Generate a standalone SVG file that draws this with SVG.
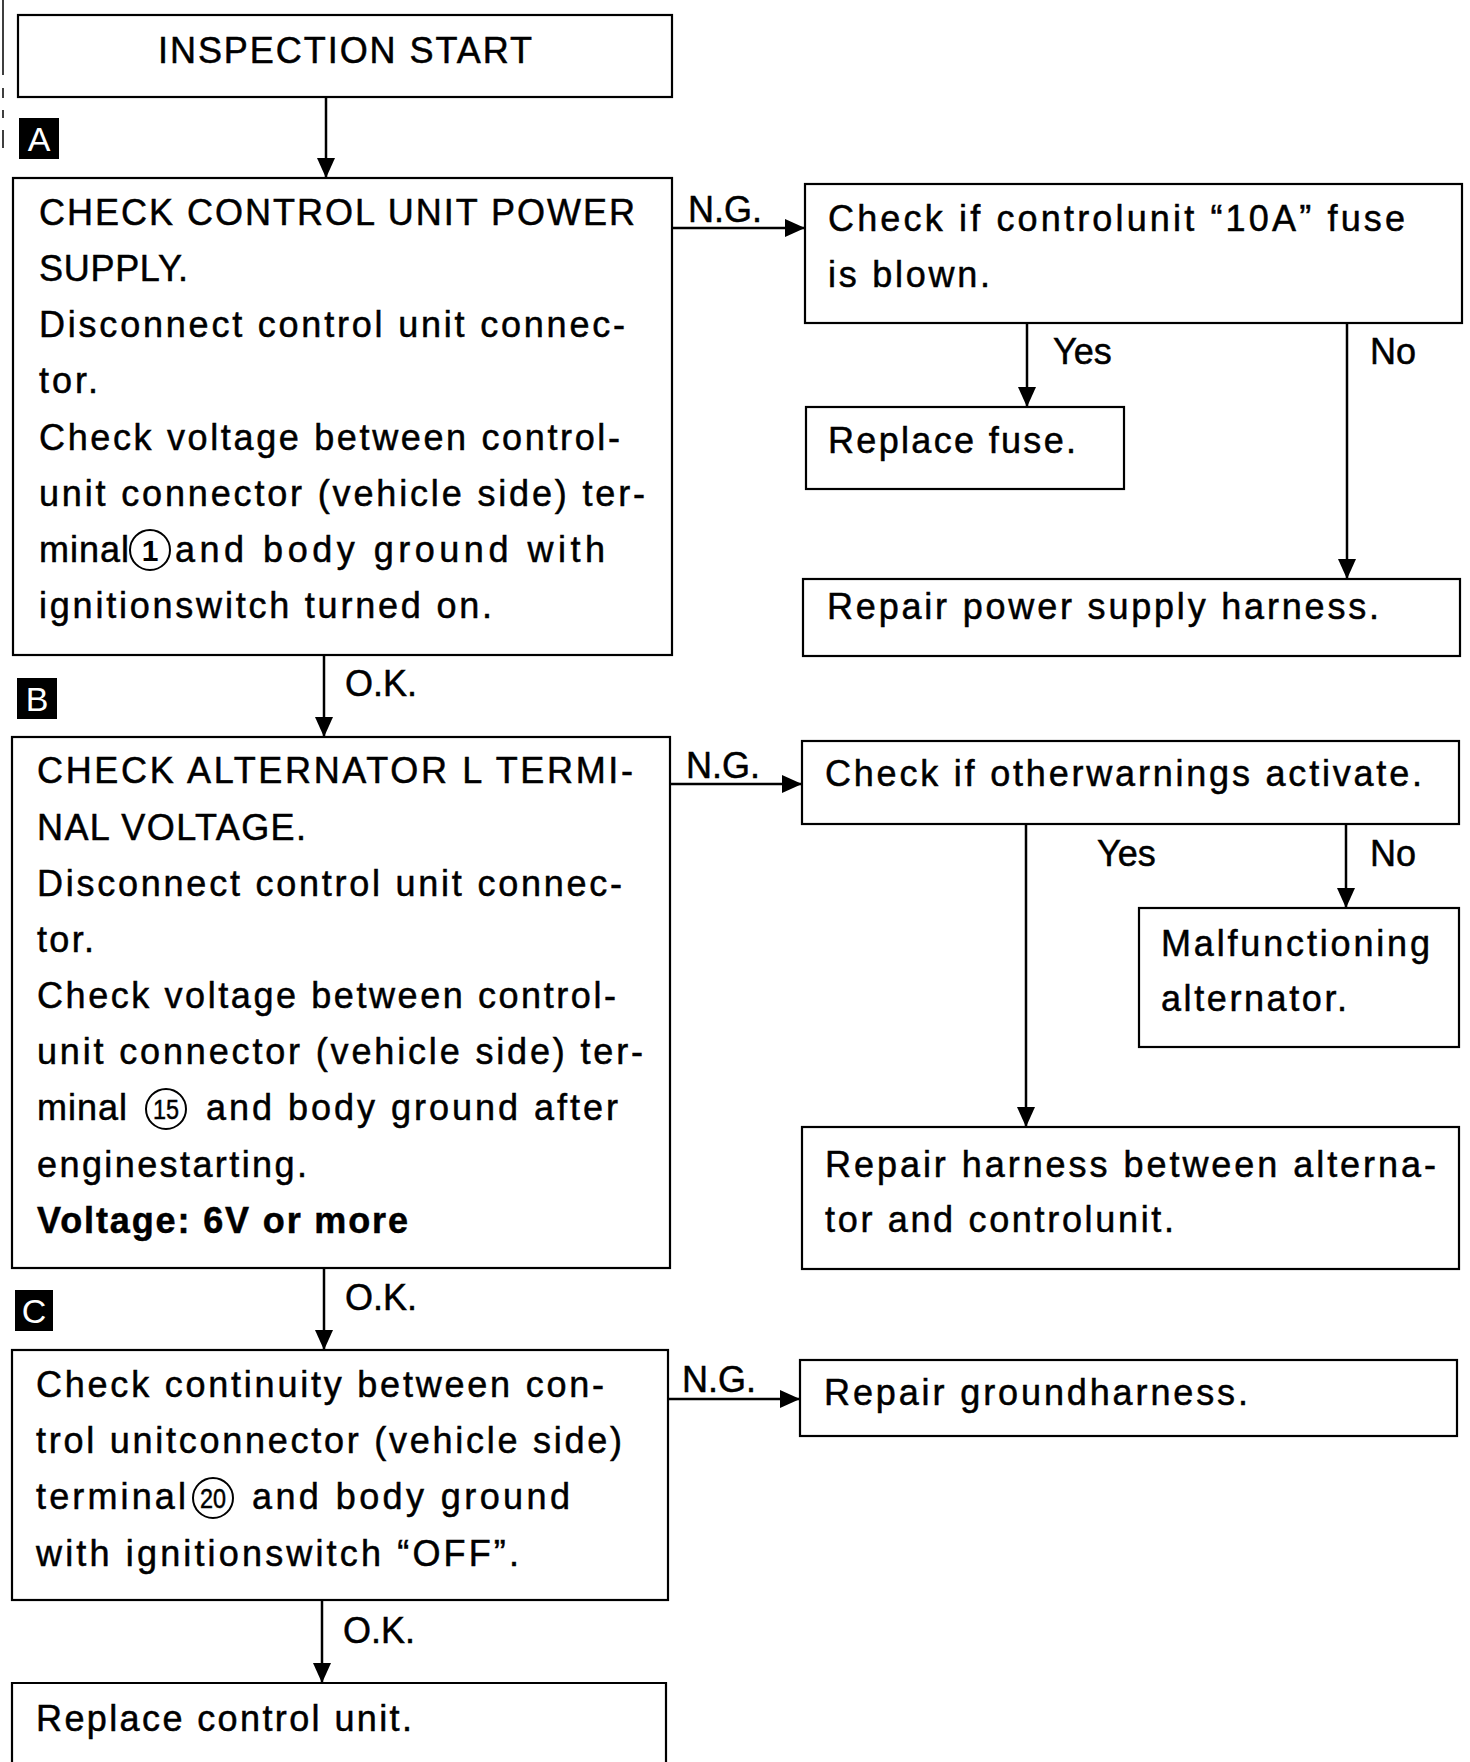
<svg xmlns="http://www.w3.org/2000/svg" width="1470" height="1762" viewBox="0 0 1470 1762">
<defs>
<style>
.box{fill:#fff;stroke:#000;stroke-width:2.2}
.t{font-family:"Liberation Sans",Arial,Helvetica,sans-serif;font-size:36px;fill:#000;stroke:#000;stroke-width:0.5}
.b{font-weight:bold}
.c{fill:none;stroke:#000;stroke-width:2.5}
.ring{fill:none;stroke:#000;stroke-width:2}
.num{font-family:"Liberation Sans",Arial,sans-serif;font-size:30px;font-weight:bold;fill:#000;text-anchor:middle}
.num2{font-family:"Liberation Sans",Arial,sans-serif;font-size:28px;fill:#000;stroke:#000;stroke-width:0.5;text-anchor:middle}
.badge{fill:#000}
.bl{font-family:"Liberation Sans",Arial,sans-serif;font-size:34px;fill:#fff;text-anchor:middle}
</style>
<marker id="ah" markerUnits="userSpaceOnUse" markerWidth="22" markerHeight="20" refX="20" refY="9" orient="auto">
<path d="M0,0 L20,9 L0,18 z" fill="#000"/>
</marker>
</defs>
<rect x="0" y="0" width="1470" height="1762" fill="#fff"/>
<path d="M3,0 V75 M3,88 V98 M3,110 V118 M3,130 V148" stroke="#000" stroke-width="1.5"/>

<g id="connectors">
<path class="c" d="M326,97 V178" marker-end="url(#ah)"/>
<path class="c" d="M672,228 H805" marker-end="url(#ah)"/>
<path class="c" d="M1027,323 V407" marker-end="url(#ah)"/>
<path class="c" d="M1347,323 V579" marker-end="url(#ah)"/>
<path class="c" d="M324,655 V737" marker-end="url(#ah)"/>
<path class="c" d="M670,784 H802" marker-end="url(#ah)"/>
<path class="c" d="M1026,824 V1127" marker-end="url(#ah)"/>
<path class="c" d="M1346,824 V908" marker-end="url(#ah)"/>
<path class="c" d="M324,1268 V1350" marker-end="url(#ah)"/>
<path class="c" d="M668,1399 H800" marker-end="url(#ah)"/>
<path class="c" d="M322,1600 V1683" marker-end="url(#ah)"/>
<text class="t" x="688" y="222" textLength="74">N.G.</text>
<text class="t" x="1053" y="364">Yes</text>
<text class="t" x="1370" y="364">No</text>
<text class="t" x="345" y="696">O.K.</text>
<text class="t" x="686" y="778" textLength="74">N.G.</text>
<text class="t" x="1097" y="866">Yes</text>
<text class="t" x="1370" y="866">No</text>
<text class="t" x="345" y="1310">O.K.</text>
<text class="t" x="682" y="1392" textLength="74">N.G.</text>
<text class="t" x="343" y="1643">O.K.</text>
</g>

<g id="start">
<rect class="box" x="18" y="15" width="654" height="82"/>
<text class="t" x="345" y="63" text-anchor="middle" textLength="374">INSPECTION START</text>
</g>

<g id="badgeA">
<rect class="badge" x="19" y="118" width="40" height="41"/>
<text class="bl" x="39" y="151">A</text>
</g>

<g id="checkA">
<rect class="box" x="13" y="178" width="659" height="477"/>
<text class="t" x="39" y="225" textLength="596">CHECK CONTROL UNIT POWER</text>
<text class="t" x="39" y="281" textLength="149">SUPPLY.</text>
<text class="t" x="39" y="337" textLength="586">Disconnect control unit connec-</text>
<text class="t" x="39" y="393" textLength="59">tor.</text>
<text class="t" x="39" y="450" textLength="581">Check voltage between control-</text>
<text class="t" x="39" y="506" textLength="606">unit connector (vehicle side) ter-</text>
<text class="t" x="39" y="562" textLength="90">minal</text>
<circle class="ring" cx="150" cy="550" r="20"/>
<text class="num" x="150" y="561">1</text>
<text class="t" x="175" y="562" textLength="430">and body ground with</text>
<text class="t" x="39" y="618" textLength="453">ignitionswitch turned on.</text>
</g>

<g id="fuseCheck">
<rect class="box" x="805" y="184" width="657" height="139"/>
<text class="t" x="828" y="231" textLength="577">Check if controlunit “10A” fuse</text>
<text class="t" x="828" y="287" textLength="162">is blown.</text>
</g>

<g id="replaceFuse">
<rect class="box" x="806" y="407" width="318" height="82"/>
<text class="t" x="828" y="453" textLength="248">Replace fuse.</text>
</g>

<g id="repairPower">
<rect class="box" x="803" y="579" width="657" height="77"/>
<text class="t" x="827" y="619" textLength="552">Repair power supply harness.</text>
</g>

<g id="badgeB">
<rect class="badge" x="17" y="678" width="40" height="41"/>
<text class="bl" x="37" y="711">B</text>
</g>

<g id="checkB">
<rect class="box" x="12" y="737" width="658" height="531"/>
<text class="t" x="37" y="783" textLength="596">CHECK ALTERNATOR L TERMI-</text>
<text class="t" x="37" y="840" textLength="269">NAL VOLTAGE.</text>
<text class="t" x="37" y="896" textLength="585">Disconnect control unit connec-</text>
<text class="t" x="37" y="952" textLength="57">tor.</text>
<text class="t" x="37" y="1008" textLength="579">Check voltage between control-</text>
<text class="t" x="37" y="1064" textLength="606">unit connector (vehicle side) ter-</text>
<text class="t" x="37" y="1120" textLength="90">minal</text>
<circle class="ring" cx="166" cy="1109" r="20"/>
<text class="num2" x="166" y="1119" textLength="26" lengthAdjust="spacingAndGlyphs">15</text>
<text class="t" x="206" y="1120" textLength="412">and body ground after</text>
<text class="t" x="37" y="1177" textLength="270">enginestarting.</text>
<text class="t b" x="37" y="1233" textLength="371">Voltage: 6V or more</text>
</g>

<g id="otherWarnings">
<rect class="box" x="802" y="741" width="657" height="83"/>
<text class="t" x="825" y="786" textLength="597">Check if otherwarnings activate.</text>
</g>

<g id="malfunction">
<rect class="box" x="1139" y="908" width="320" height="139"/>
<text class="t" x="1161" y="956" textLength="269">Malfunctioning</text>
<text class="t" x="1161" y="1011" textLength="186">alternator.</text>
</g>

<g id="repairHarness">
<rect class="box" x="802" y="1127" width="657" height="142"/>
<text class="t" x="825" y="1177" textLength="611">Repair harness between alterna-</text>
<text class="t" x="825" y="1232" textLength="349">tor and controlunit.</text>
</g>

<g id="badgeC">
<rect class="badge" x="15" y="1290" width="38" height="41"/>
<text class="bl" x="34" y="1323">C</text>
</g>

<g id="checkC">
<rect class="box" x="12" y="1350" width="656" height="250"/>
<text class="t" x="36" y="1397" textLength="568">Check continuity between con-</text>
<text class="t" x="36" y="1453" textLength="586">trol unitconnector (vehicle side)</text>
<text class="t" x="36" y="1509" textLength="150">terminal</text>
<circle class="ring" cx="213" cy="1498" r="20"/>
<text class="num2" x="213" y="1508" textLength="26" lengthAdjust="spacingAndGlyphs">20</text>
<text class="t" x="252" y="1509" textLength="318">and body ground</text>
<text class="t" x="36" y="1566" textLength="483">with ignitionswitch “OFF”.</text>
</g>

<g id="repairGround">
<rect class="box" x="800" y="1360" width="657" height="76"/>
<text class="t" x="824" y="1405" textLength="424">Repair groundharness.</text>
</g>

<g id="replaceUnit">
<path class="box" d="M12,1770 V1683 H666 V1770"/>
<text class="t" x="36" y="1731" textLength="376">Replace control unit.</text>
</g>
</svg>
